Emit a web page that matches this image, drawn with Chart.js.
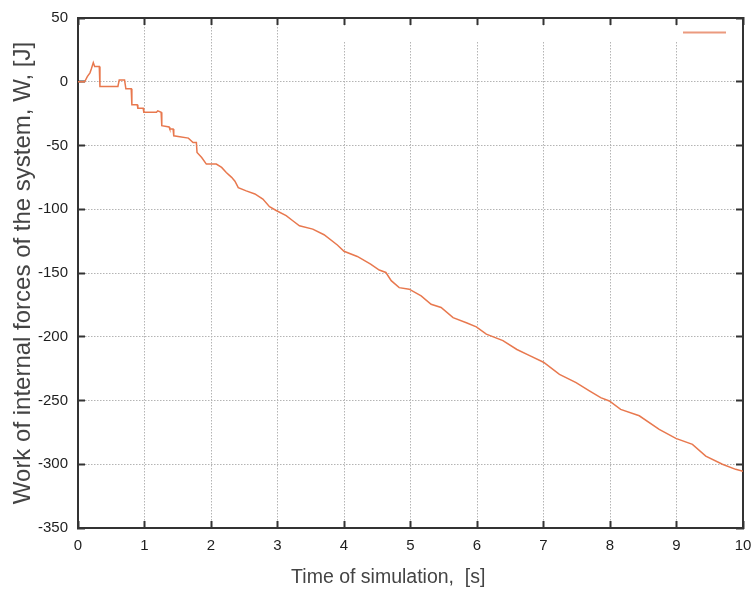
<!DOCTYPE html>
<html>
<head>
<meta charset="utf-8">
<script src="https://cdn.jsdelivr.net/npm/chart.js@4/dist/chart.umd.min.js"></script>
<style>
html,body{margin:0;padding:0;background:#fff;}
#wrap{width:755px;height:592px;}
</style>
</head>
<body>
<div id="wrap"><canvas id="c" width="755" height="592"></canvas></div>
<script>
// ---- data ----
const timeS = [0, 0.1, 0.14, 0.18, 0.2, 0.23, 0.25, 0.32, 0.33, 0.6, 0.62, 0.7, 0.72, 0.8, 0.81, 0.89, 0.9, 0.98, 0.99, 1.18, 1.2, 1.25, 1.26, 1.37, 1.38, 1.43, 1.44, 1.66, 1.73, 1.78, 1.79, 1.86, 1.93, 2.08, 2.16, 2.23, 2.31, 2.36, 2.41, 2.53, 2.66, 2.78, 2.88, 2.98, 3.13, 3.23, 3.33, 3.53, 3.7, 3.9, 4.0, 4.2, 4.4, 4.53, 4.63, 4.71, 4.83, 4.98, 5.16, 5.31, 5.46, 5.64, 5.84, 5.99, 6.14, 6.39, 6.6, 6.8, 7.0, 7.24, 7.49, 7.69, 7.86, 7.99, 8.16, 8.44, 8.74, 8.99, 9.24, 9.44, 9.69, 9.89, 10];
const workJ = [0, 0, 4, 7, 10, 15, 12, 12, -3.7, -3.7, 1.3, 1.3, -5.5, -5.5, -18, -18, -20.7, -20.7, -24, -24, -22.8, -24, -34.5, -35.5, -37, -37, -42.4, -44.2, -47.6, -47.6, -55.5, -59.4, -64.6, -64.6, -67.2, -71.2, -75, -78, -83, -85.6, -88, -92, -98, -101, -105, -109, -113, -115.6, -120, -128, -133, -137, -143, -147.7, -149.6, -156, -161.5, -162.7, -168, -174.5, -177, -185, -189, -192.3, -198, -203, -210, -215, -220, -229.5, -236, -242.5, -247.8, -250.4, -257, -262, -272.7, -279.7, -284.4, -293.6, -300, -304, -305.5];
const xTickValues = [0, 1, 2, 3, 4, 5, 6, 7, 8, 9, 10];
const yTickValues = [-350, -300, -250, -200, -150, -100, -50, 0, 50];
const xTitle = 'Time of simulation,  [s]';
const yTitle = 'Work of internal forces of the system, W, [J]';
const seriesLabel = '';

// ---- styles ----
const lineColor = '#e8784e';
const keyColor = '#eb9a7e';
const frameColor = '#333333';
const gridColor = '#b4b4b4';
const tickFont = {family: '"Liberation Sans", Arial, sans-serif', size: 15};
const points = timeS.map((t, i) => ({x: t, y: workJ[i]}));

function fixedTicks(values) {
  return function (scale) {
    scale.ticks = values.map(v => ({value: v}));
  };
}
function noPad(s) {
  s.paddingLeft = 0; s.paddingRight = 0; s.paddingTop = 0; s.paddingBottom = 0;
}

const keyPlugin = {
  id: 'keyBox',
  beforeDatasetsDraw(chart) {
    const {ctx, chartArea: a} = chart;
    ctx.save();
    ctx.fillStyle = '#ffffff';
    ctx.fillRect(a.left + 258, a.top + 9, a.right - a.left - 260, 15);
    ctx.restore();
  },
  afterDatasetsDraw(chart) {
    const {ctx, chartArea: a} = chart;
    ctx.save();
    ctx.strokeStyle = keyColor;
    ctx.lineWidth = 2;
    ctx.beginPath();
    ctx.moveTo(a.right - 60, a.top + 14.5);
    ctx.lineTo(a.right - 17, a.top + 14.5);
    ctx.stroke();
    ctx.restore();
  }
};

const commonGrid = {
  color: gridColor,
  lineWidth: 1,
  drawTicks: true,
  tickLength: -7,
  tickColor: frameColor,
  tickWidth: 2,
  tickBorderDash: []
};

new Chart(document.getElementById('c'), {
  type: 'line',
  data: {
    datasets: [{
      label: seriesLabel,
      data: points,
      borderColor: lineColor,
      backgroundColor: lineColor,
      borderWidth: 1.5,
      pointRadius: 0,
      tension: 0,
      fill: false,
      xAxisID: 'x',
      yAxisID: 'y'
    }]
  },
  options: {
    responsive: false,
    animation: false,
    layout: {padding: 0},
    plugins: {legend: {display: false}, tooltip: {enabled: false}},
    scales: {
      x: {
        type: 'linear', position: 'bottom', min: 0, max: 10,
        afterBuildTicks: fixedTicks(xTickValues),
        afterFit(s) { s.height = 64; noPad(s); },
        grid: Object.assign({}, commonGrid),
        border: {display: true, color: frameColor, width: 2, dash: [1.5, 1.5]},
        ticks: {color: '#1e1e1e', font: tickFont, padding: 16, maxRotation: 0},
        title: {display: true, text: xTitle + '\u2003\u2003 ', color: '#444', font: {family: '"Liberation Sans", Arial, sans-serif', size: 19.5}, padding: {top: 0, bottom: 3}}
      },
      x2: {
        type: 'linear', position: 'top', min: 0, max: 10,
        afterBuildTicks: fixedTicks(xTickValues),
        afterFit(s) { s.height = 18; noPad(s); },
        grid: Object.assign({}, commonGrid, {drawOnChartArea: false}),
        border: {display: true, color: frameColor, width: 2},
        ticks: {display: false}
      },
      y: {
        type: 'linear', position: 'left', min: -350, max: 50,
        afterBuildTicks: fixedTicks(yTickValues),
        afterFit(s) { s.width = 78; noPad(s); },
        grid: Object.assign({}, commonGrid),
        border: {display: true, color: frameColor, width: 2, dash: [1.5, 1.5]},
        ticks: {color: '#1e1e1e', font: tickFont, padding: 17},
        title: {display: true, text: yTitle, color: '#444', font: {family: '"Liberation Sans", Arial, sans-serif', size: 24}, padding: {top: 9, bottom: 0}}
      },
      y2: {
        type: 'linear', position: 'right', min: -350, max: 50,
        afterBuildTicks: fixedTicks(yTickValues),
        afterFit(s) { s.width = 12; noPad(s); },
        grid: Object.assign({}, commonGrid, {drawOnChartArea: false}),
        border: {display: true, color: frameColor, width: 2},
        ticks: {display: false}
      }
    }
  },
  plugins: [keyPlugin]
});
</script>
</body>
</html>
